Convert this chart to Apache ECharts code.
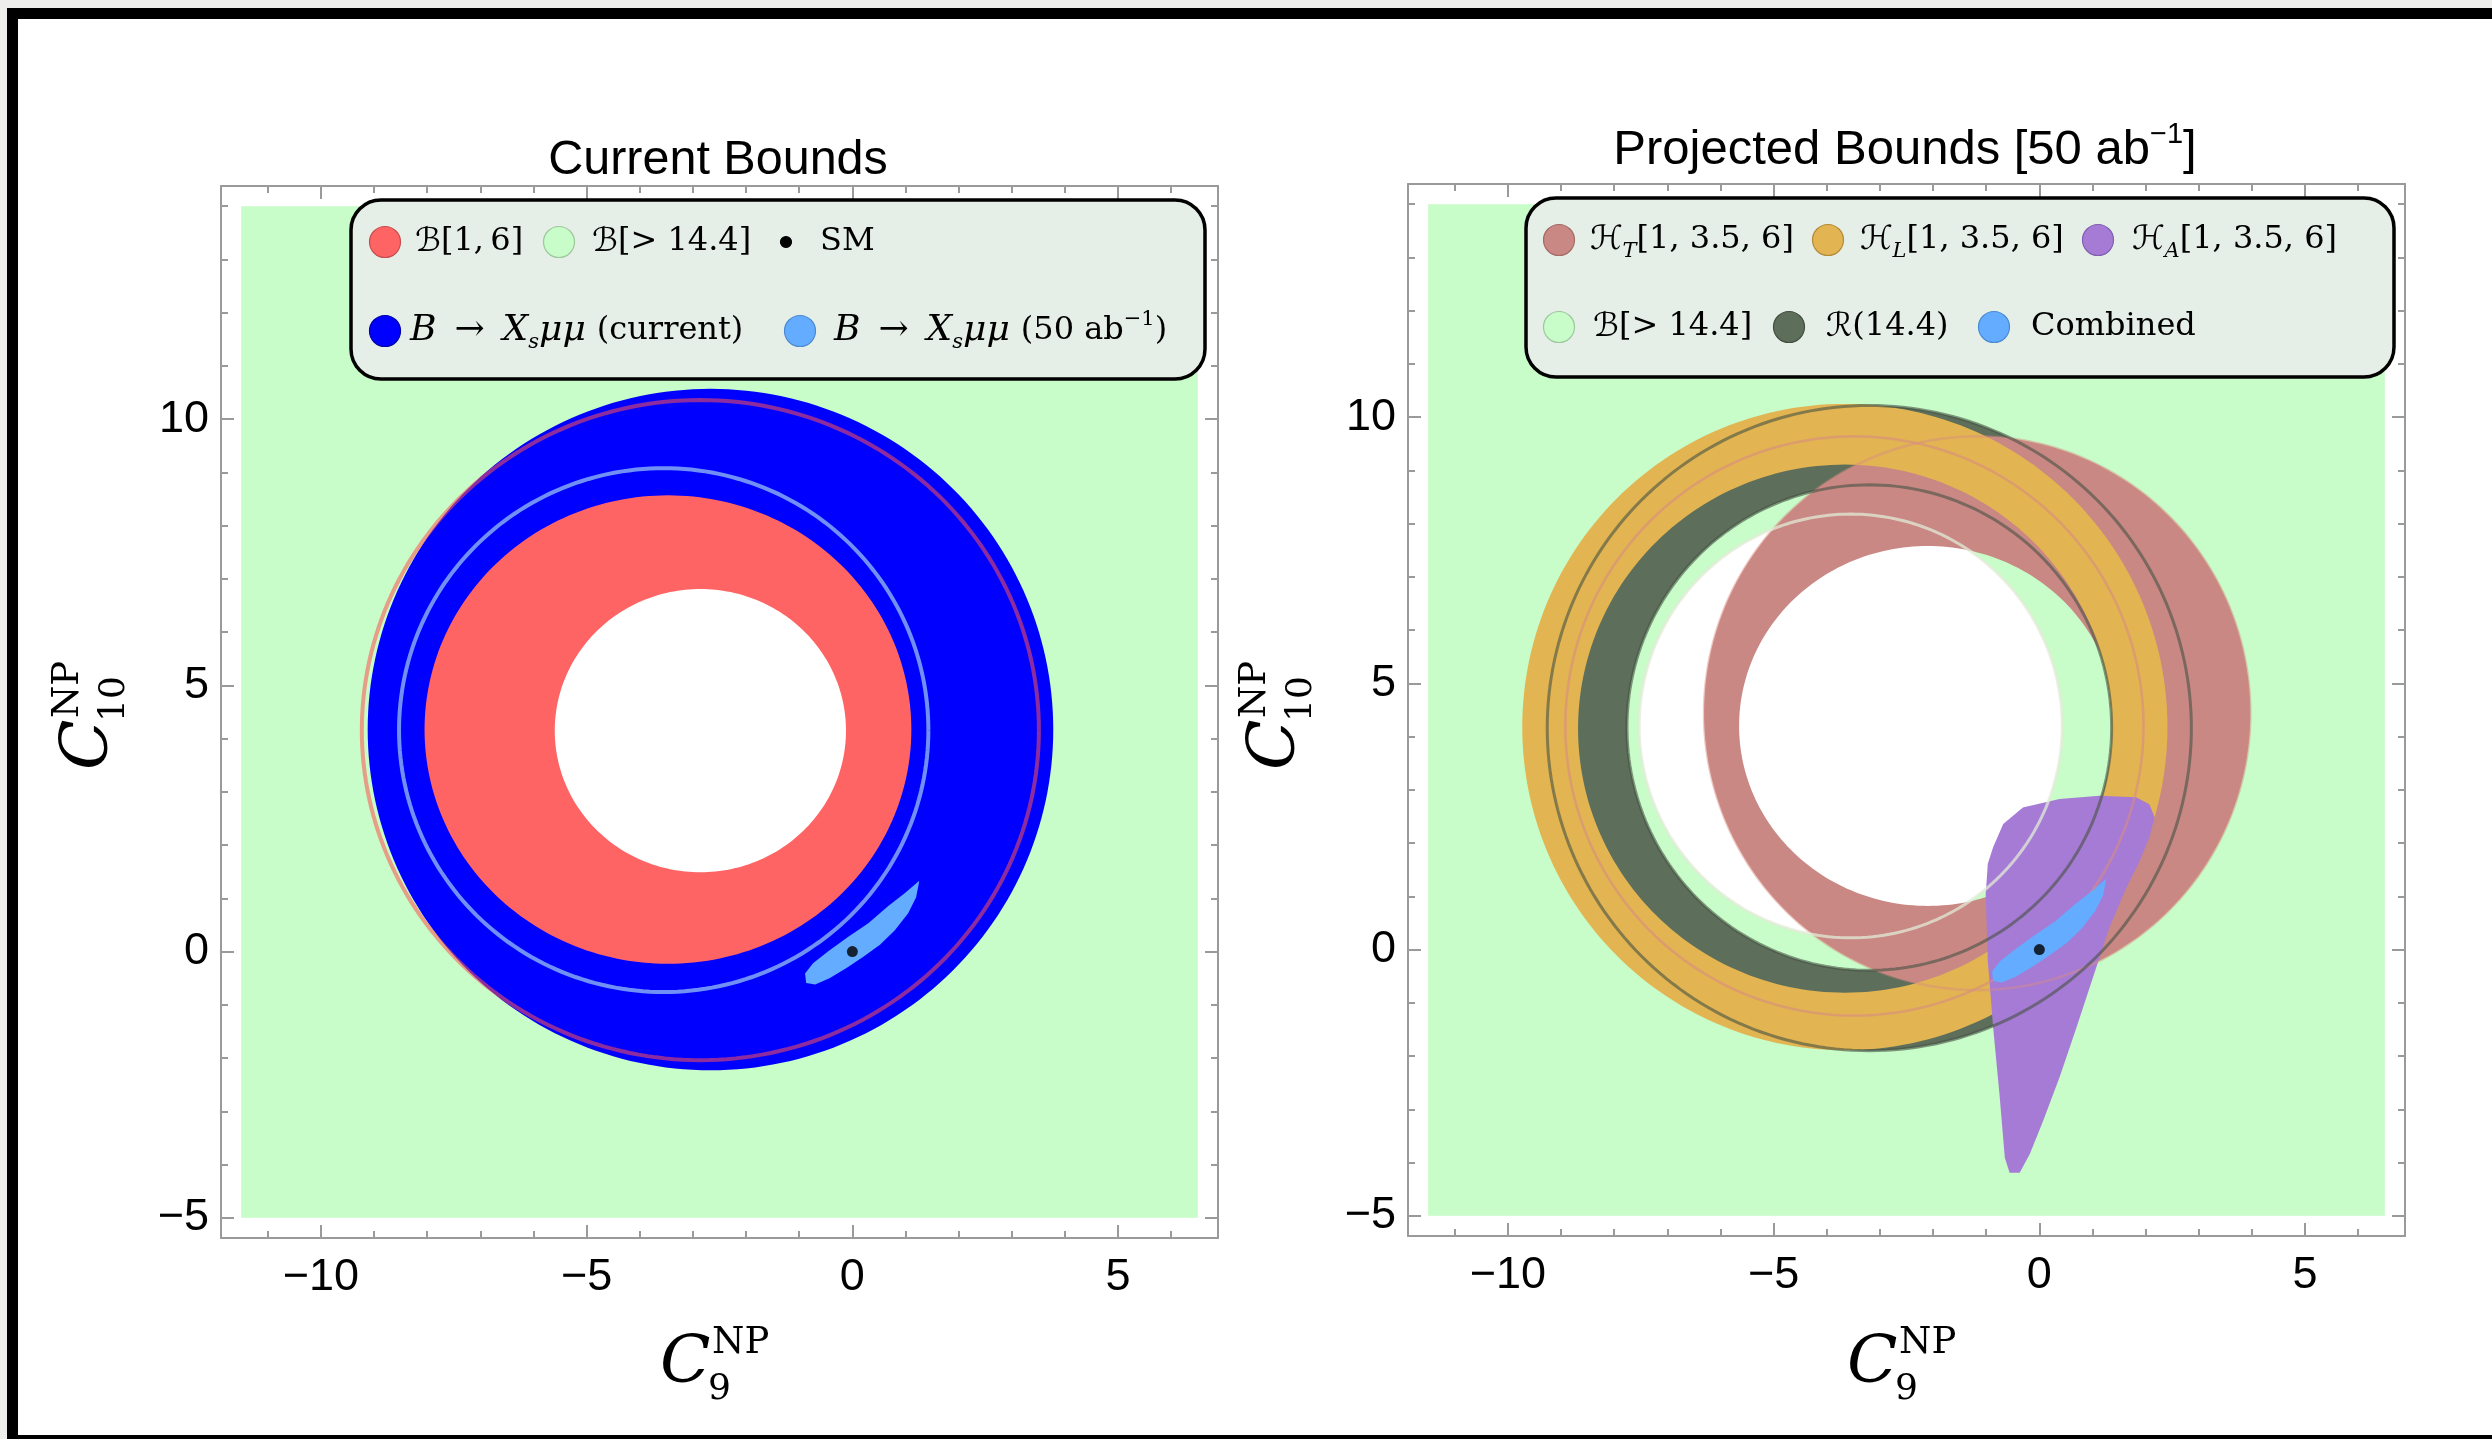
<!DOCTYPE html>
<html>
<head>
<meta charset="utf-8">
<script src="https://cdn.jsdelivr.net/npm/echarts@6/dist/echarts.min.js"></script>
<style>
html,body{margin:0;padding:0;background:#ffffff;}
#chart{width:2492px;height:1439px;}
</style>
</head>
<body>
<div id="chart"></div>
<script>
// ---------------- data ----------------
const X_RANGE = [-11.88, 6.88];
const Y_RANGE = [-5.38, 14.38];
const X_MAJOR = [-10, -5, 0, 5];
const Y_MAJOR = [-5, 0, 5, 10];
const X_MINOR = [-11, -10, -9, -8, -7, -6, -5, -4, -3, -2, -1, 0, 1, 2, 3, 4, 5, 6];
const Y_MINOR = [-5, -4, -3, -2, -1, 0, 1, 2, 3, 4, 5, 6, 7, 8, 9, 10, 11, 12, 13, 14];

// scanned parameter box [xmin, xmax, ymin, ymax]
const SCAN_BOX = [-11.5, 6.5, -5, 14];
// ellipses: [cx, cy, rx, ry]
const B144_HOLE  = [-3.55, 4.20, 3.98, 3.98];   // excluded by B[>14.4]
const XS_CUR_OUT = [-2.67, 4.17, 6.45, 6.40];   // B->Xs mu mu (current)
const XS_CUR_IN  = [-3.20, 4.16, 3.60, 3.60];
const B16_OUT    = [-3.47, 4.17, 4.58, 4.40];   // B[1,6]
const B16_IN     = [-2.86, 4.15, 2.74, 2.66];
const B16_EDGE   = [-2.86, 4.16, 6.37, 6.20];
const XS50_EDGE  = [-3.55, 4.16, 4.98, 4.92];
const R144_OUT   = [-3.20, 4.16, 6.06, 6.06];   // R(14.4)
const R144_IN    = [-3.20, 4.17, 4.56, 4.56];
const HT_OUT     = [-1.17, 4.44, 5.14, 5.20];   // H_T
const HT_IN      = [-2.10, 4.20, 3.55, 3.38];
const HL_OUT     = [-3.66, 4.18, 6.07, 6.07];   // H_L
const HL_IN      = [-3.66, 4.15, 5.02, 4.96];
const HL_EDGE    = [-3.48, 4.20, 5.44, 5.44];

const COMBINED = [[1.26,1.33],[1.20,1.02],[1.05,0.72],[0.80,0.40],[0.52,0.13],[0.20,-0.10],
  [-0.11,-0.31],[-0.43,-0.50],[-0.70,-0.62],[-0.87,-0.59],[-0.89,-0.41],[-0.74,-0.22],
  [-0.46,0.00],[-0.09,0.27],[0.30,0.53],[0.67,0.85],[0.99,1.10]];

const HA_REGION = [[-0.87,1.92],[-0.68,2.36],[-0.31,2.67],[0.38,2.83],[1.13,2.89],[1.82,2.86],
  [2.07,2.73],[2.17,2.48],[2.07,2.11],[1.89,1.67],[1.64,1.17],[1.32,0.42],[1.01,-0.52],
  [0.70,-1.46],[0.38,-2.40],[0.07,-3.22],[-0.18,-3.84],[-0.37,-4.19],[-0.56,-4.19],
  [-0.65,-3.91],[-0.75,-2.72],[-0.87,-1.46],[-0.97,-0.21],[-1.01,1.04],[-0.97,1.61]];

const SM_POINT = [0, 0];

// ---------------- colours ----------------
const C = {
  green: '#c8fcc8', blue: '#0000ff', red: '#ff6464', lblue: '#63acff',
  pink: '#c98884', orange: '#e2b452', purple: '#a67bd5', dgreen: '#5d6e5a'
};

// ---------------- helpers ----------------
function ell(api, e, rev) {
  const N = 240, pts = [];
  for (let k = 0; k <= N; k++) {
    const t = (rev ? -1 : 1) * 2 * Math.PI * k / N;
    pts.push(api.coord([e[0] + e[2] * Math.cos(t), e[1] + e[3] * Math.sin(t)]));
  }
  return pts;
}
function custom(g, name, draw) {
  return { type: 'custom', name: name, xAxisIndex: g * 4, yAxisIndex: g * 4,
    data: [[0, 0]], silent: true, renderItem: function (p, api) { return draw(api); } };
}
function ring(g, name, out, inn, color) {
  return custom(g, name, api => ({ type: 'polygon',
    shape: { points: ell(api, out, false).concat(ell(api, inn, true)) },
    style: { fill: color } }));
}
function boxWithHole(g, name, box, hole, color) {
  return custom(g, name, api => {
    const pts = [[box[0], box[2]], [box[1], box[2]], [box[1], box[3]], [box[0], box[3]], [box[0], box[2]]]
      .map(p => api.coord(p)).concat(ell(api, hole, true));
    return { type: 'polygon', shape: { points: pts }, style: { fill: color } };
  });
}
function edge(g, name, e, color, w) {
  return custom(g, name, api => ({ type: 'polyline', shape: { points: ell(api, e, false) },
    style: { stroke: color, lineWidth: w, fill: null } }));
}
function region(g, name, pts, color) {
  return custom(g, name, api => ({ type: 'polygon', shape: { points: pts.map(p => api.coord(p)) },
    style: { fill: color } }));
}
function smPoint(g) {
  return { type: 'scatter', name: 'SM', xAxisIndex: g * 4, yAxisIndex: g * 4, data: [SM_POINT],
    symbol: 'circle', symbolSize: 11, itemStyle: { color: '#000' }, silent: true };
}
const fmt = v => (v < 0 ? '\u2212' + Math.abs(v) : String(v));

const FRAME = { color: '#9a9a9a', width: 2 };
const TICKLAB = { fontFamily: '"Liberation Sans", Arial, sans-serif', fontSize: 45, color: '#000', formatter: fmt };
function axes(g) {
  const base = { type: 'value', gridIndex: g, splitLine: { show: false } };
  const xb = Object.assign({}, base, { min: X_RANGE[0], max: X_RANGE[1] });
  const yb = Object.assign({}, base, { min: Y_RANGE[0], max: Y_RANGE[1] });
  const tick = (vals, len) => ({ show: true, inside: true, length: len, customValues: vals, lineStyle: FRAME });
  const x = [
    Object.assign({}, xb, { position: 'bottom', axisLine: { show: true, onZero: false, lineStyle: FRAME },
      axisTick: tick(X_MAJOR, 13), axisLabel: Object.assign({ show: true, customValues: X_MAJOR, margin: 17 }, TICKLAB) }),
    Object.assign({}, xb, { position: 'bottom', axisLine: { show: false, onZero: false },
      axisTick: tick(X_MINOR, 7), axisLabel: { show: false } }),
    Object.assign({}, xb, { position: 'top', axisLine: { show: true, onZero: false, lineStyle: FRAME },
      axisTick: tick(X_MAJOR, 13), axisLabel: { show: false } }),
    Object.assign({}, xb, { position: 'top', axisLine: { show: false, onZero: false },
      axisTick: tick(X_MINOR, 7), axisLabel: { show: false } })
  ];
  const y = [
    Object.assign({}, yb, { position: 'left', axisLine: { show: true, onZero: false, lineStyle: FRAME },
      axisTick: tick(Y_MAJOR, 13), axisLabel: Object.assign({ show: true, customValues: Y_MAJOR, margin: 12 }, TICKLAB) }),
    Object.assign({}, yb, { position: 'left', axisLine: { show: false, onZero: false },
      axisTick: tick(Y_MINOR, 7), axisLabel: { show: false } }),
    Object.assign({}, yb, { position: 'right', axisLine: { show: true, onZero: false, lineStyle: FRAME },
      axisTick: tick(Y_MAJOR, 13), axisLabel: { show: false } }),
    Object.assign({}, yb, { position: 'right', axisLine: { show: false, onZero: false },
      axisTick: tick(Y_MINOR, 7), axisLabel: { show: false } })
  ];
  return { x, y };
}
const A0 = axes(0), A1 = axes(1);

// ---------------- graphic: legends, titles, axis names, page frame ----------------
const SERIF = '"DejaVu Serif", "DejaVu Sans", serif';
const RICH = {
  r:   { fontFamily: SERIF, fontSize: 32, lineHeight: 44, color: '#111' },
  i:   { fontFamily: SERIF, fontSize: 32, lineHeight: 44, fontStyle: 'italic', color: '#111' },
  m:   { fontFamily: SERIF, fontSize: 36, lineHeight: 44, fontStyle: 'italic', color: '#111' },
  ar:  { fontFamily: SERIF, fontSize: 36, lineHeight: 44, color: '#111' },
  g:   { width: 18, lineHeight: 44 },
  gs:  { width: 11, lineHeight: 44 },
  cal: { fontFamily: SERIF, fontSize: 33, lineHeight: 44, fontStyle: 'italic', color: '#111' },
  sub: { fontFamily: SERIF, fontSize: 21, lineHeight: 24, fontStyle: 'italic', verticalAlign: 'bottom', color: '#111' },
  sup: { fontFamily: SERIF, fontSize: 21, lineHeight: 24, verticalAlign: 'top', color: '#111' }
};
function ltext(x, y, t) {
  return { type: 'text', x: x, y: y, z: 102, silent: true,
    style: { text: t, rich: RICH, align: 'left', verticalAlign: 'middle' } };
}
function marker(x, y, fill, stroke, r) {
  return { type: 'circle', z: 102, silent: true, shape: { cx: x, cy: y, r: r || 15.5 },
    style: { fill: fill, stroke: stroke, lineWidth: 1.2 } };
}
function legendBox(x, y, w, h) {
  return { type: 'rect', z: 101, silent: true, shape: { x: x, y: y, width: w, height: h, r: 30 },
    style: { fill: '#e6efe7', stroke: '#000', lineWidth: 3.5 } };
}
function axisName(x, y, sub, rot) {
  return { type: 'group', x: x, y: y, rotation: rot || 0, z: 50, silent: true, children: [
    { type: 'text', x: -58, y: 2, style: { text: 'C', fontFamily: SERIF, fontStyle: 'italic', fontSize: 66, fill: '#000', align: 'left', verticalAlign: 'middle' } },
    { type: 'text', x: -6, y: -20, style: { text: 'NP', fontFamily: SERIF, fontSize: 37, fill: '#000', align: 'left', verticalAlign: 'middle' } },
    { type: 'text', x: -10, y: 27, style: { text: sub, fontFamily: SERIF, fontSize: 36, fill: '#000', align: 'left', verticalAlign: 'middle' } }
  ] };
}
const SANS = '"Liberation Sans", Arial, sans-serif';
const DX = 1187;
const MATH = '{m|B}{g| }{ar|\u2192}{g| }{m|X}{sub|s}{m|\u03BC\u03BC}{gs| }';

const graphics = [
  // page frame of the screenshot
  { type: 'rect', z: 0, silent: true, shape: { x: 0, y: 0, width: 2492, height: 8 }, style: { fill: '#eeeeec' } },
  { type: 'rect', z: 0, silent: true, shape: { x: 0, y: 0, width: 7, height: 1439 }, style: { fill: '#eeeeec' } },
  { type: 'rect', z: 0, silent: true, shape: { x: 7, y: 8, width: 11, height: 1431 }, style: { fill: '#000' } },
  { type: 'rect', z: 0, silent: true, shape: { x: 7, y: 8, width: 2485, height: 11 }, style: { fill: '#000' } },
  { type: 'rect', z: 0, silent: true, shape: { x: 7, y: 1435, width: 2485, height: 4 }, style: { fill: '#000' } },
  // titles
  { type: 'text', x: 718, y: 161, z: 50, silent: true, style: { text: 'Current Bounds', fontFamily: SANS, fontSize: 48.5, fill: '#000', align: 'center', verticalAlign: 'middle' } },
  { type: 'text', x: 1905, y: 150, z: 50, silent: true, style: { text: '{t|Projected Bounds [50 ab}{s|\u22121}{t|]}', align: 'center', verticalAlign: 'middle',
      rich: { t: { fontFamily: SANS, fontSize: 49, lineHeight: 60, color: '#000' }, s: { fontFamily: SANS, fontSize: 29, lineHeight: 30, verticalAlign: 'top', color: '#000' } } } },
  // axis names
  axisName(718, 1363, '9', 0),
  axisName(88, 712, '10', Math.PI / 2),
  axisName(718 + DX, 1363, '9', 0),
  axisName(88 + DX, 712, '10', Math.PI / 2),
  // left legend
  legendBox(351, 200, 854, 179),
  marker(385, 242, C.red, '#c84e4e'), ltext(415, 242, '{cal|\u212C}{r|[1,\u20096]}'),
  marker(559, 242, C.green, '#9dc79d'), ltext(592, 242, '{cal|\u212C}{r|[> 14.4]}'),
  marker(786, 242, '#000', '#000', 5.5), ltext(820, 242, '{r|SM}'),
  marker(385, 331, C.blue, '#0000a8'), ltext(410, 331, MATH + '{r|(current)}'),
  marker(800, 331, C.lblue, '#4b8bd4'), ltext(834, 331, MATH + '{r|(50 ab}{sup|\u22121}{r|)}'),
  // right legend
  legendBox(1526, 198, 868, 179),
  marker(1559, 240, C.pink, '#a56b67'), ltext(1590, 240, '{cal|\u210B}{sub|T}{r|[1, 3.5, 6]}'),
  marker(1828, 240, C.orange, '#b38b3a'), ltext(1860, 240, '{cal|\u210B}{sub|L}{r|[1, 3.5, 6]}'),
  marker(2098, 240, C.purple, '#8060b0'), ltext(2132, 240, '{cal|\u210B}{sub|A}{r|[1, 3.5, 6]}'),
  marker(1559, 327, C.green, '#9dc79d'), ltext(1593, 327, '{cal|\u212C}{r|[> 14.4]}'),
  marker(1789, 327, C.dgreen, '#43503f'), ltext(1826, 327, '{cal|\u211B}{r|(14.4)}'),
  marker(1994, 327, C.lblue, '#4b8bd4'), ltext(2031, 327, '{r|Combined}')
];

// ---------------- series ----------------
const series = [
  // Current bounds (grid 0)
  boxWithHole(0, 'B[>14.4]', SCAN_BOX, B144_HOLE, C.green),
  ring(0, 'B->Xs mu mu (current)', XS_CUR_OUT, XS_CUR_IN, C.blue),
  ring(0, 'B[1,6]', B16_OUT, B16_IN, C.red),
  edge(0, 'B[1,6] edge', B16_EDGE, 'rgba(255,80,80,0.55)', 4),
  edge(0, 'B->Xs mu mu (50/ab) edge', XS50_EDGE, 'rgba(125,160,245,0.9)', 4),
  region(0, 'B->Xs mu mu (50/ab)', COMBINED, C.lblue),
  smPoint(0),
  // Projected bounds (grid 1)
  boxWithHole(1, 'B[>14.4]', SCAN_BOX, B144_HOLE, C.green),
  ring(1, 'R(14.4)', R144_OUT, R144_IN, C.dgreen),
  ring(1, 'H_T', HT_OUT, HT_IN, C.pink),
  ring(1, 'H_L', HL_OUT, HL_IN, C.orange),
  region(1, 'H_A', HA_REGION, C.purple),
  edge(1, 'H_T edge', HT_OUT, 'rgba(215,140,130,0.45)', 2.5),
  edge(1, 'H_L edge', HL_EDGE, 'rgba(215,140,130,0.6)', 2.5),
  edge(1, 'B[>14.4] edge', B144_HOLE, 'rgba(225,235,215,0.75)', 3),
  edge(1, 'R(14.4) outer', R144_OUT, 'rgba(70,82,68,0.6)', 3),
  edge(1, 'R(14.4) inner', R144_IN, 'rgba(70,82,68,0.6)', 3),
  region(1, 'Combined', COMBINED, C.lblue),
  smPoint(1)
];

const chart = echarts.init(document.getElementById('chart'), null, { renderer: 'canvas', width: 2492, height: 1439 });
chart.setOption({
  backgroundColor: '#ffffff',
  animation: false,
  grid: [
    { left: 221, top: 186, width: 997, height: 1052, containLabel: false },
    { left: 1408, top: 184, width: 997, height: 1052, containLabel: false }
  ],
  xAxis: A0.x.concat(A1.x),
  yAxis: A0.y.concat(A1.y),
  graphic: { elements: graphics },
  series: series
});
</script>
</body>
</html>
